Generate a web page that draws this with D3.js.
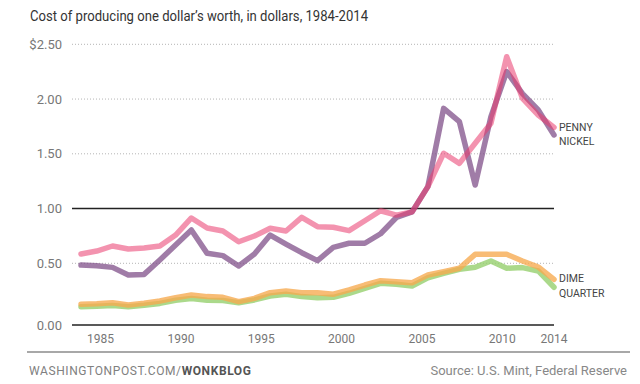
<!DOCTYPE html>
<html>
<head>
<meta charset="utf-8">
<script src="https://cdn.jsdelivr.net/npm/d3@7"></script>
<style>
  html, body { margin: 0; padding: 0; background: #fff; }
  svg { display: block; }
</style>
</head>
<body>
<svg id="chart" width="640" height="384"></svg>
<script>
// ---- data ----
const years = [1984,1985,1986,1987,1988,1989,1990,1991,1992,1993,1994,1995,1996,1997,1998,1999,
               2000,2001,2002,2003,2004,2005,2006,2007,2008,2009,2010,2011,2012,2013,2014];
const penny   = [0.585,0.612,0.658,0.630,0.640,0.658,0.758,0.914,0.822,0.795,0.697,0.749,0.820,0.795,0.920,0.834,
                 0.829,0.798,0.889,0.980,0.940,0.970,1.200,1.505,1.413,1.596,1.779,2.387,2.007,1.854,1.742];
const nickel  = [0.486,0.480,0.467,0.405,0.410,0.530,0.667,0.804,0.591,0.570,0.478,0.585,0.758,0.676,0.597,0.524,
                 0.646,0.683,0.683,0.770,0.918,0.970,1.200,1.915,1.793,1.215,1.839,2.250,2.050,1.900,1.672];
const dime    = [0.168,0.172,0.181,0.162,0.176,0.194,0.221,0.243,0.230,0.224,0.189,0.216,0.262,0.276,0.262,0.262,
                 0.249,0.284,0.324,0.359,0.351,0.343,0.405,0.432,0.460,0.582,0.582,0.582,0.521,0.470,0.370];
const quarter = [0.148,0.152,0.158,0.148,0.160,0.175,0.200,0.215,0.200,0.198,0.181,0.203,0.235,0.249,0.230,0.221,
                 0.224,0.257,0.297,0.338,0.330,0.316,0.383,0.419,0.451,0.468,0.521,0.460,0.465,0.438,0.306];
const seriesNames = ["QUARTER","DIME","NICKEL","PENNY"];
const yTicks = [0, 0.5, 1.0, 1.5, 2.0, 2.5];
const yTickLabels = ["0.00","0.50","1.00","1.50","2.00","$2.50"];
const xTickYears = [1985, 1990, 1995, 2000, 2005, 2010];
const lastTickYear = 2014;
const title = "Cost of producing one dollar\u2019s worth, in dollars, 1984-2014";
const sourceText = "Source: U.S. Mint, Federal Reserve";

// ---- layout ----
const svg = d3.select("#chart");
const gridLeft = 72, gridRight = 554;
const x = d3.scaleLinear().domain([1984, 2014]).range([81, 554]);
const xLabel = d3.scaleLinear().domain([1984, 2014]).range([84, 566]);
const y = d3.scaleLinear().domain([0, 0.5, 2.5]).range([325, 263.3, 44.3]);

const font = "Roboto, 'Liberation Sans', sans-serif";

// title
svg.append("text")
  .attr("x", 30).attr("y", 21)
  .attr("font-family", font).attr("font-size", 14)
  .attr("fill", "#333")
  .attr("textLength", 338).attr("lengthAdjust", "spacingAndGlyphs")
  .text(title);

// gridlines
const grid = svg.append("g");
yTicks.forEach((t) => {
  const solid = (t === 0 || t === 1);
  grid.append("line")
    .attr("x1", gridLeft).attr("x2", gridRight)
    .attr("y1", y(t)).attr("y2", y(t))
    .attr("stroke", solid ? "#222" : "#b5b5b5")
    .attr("stroke-width", solid ? 1.6 : 1)
    .attr("stroke-dasharray", solid ? null : "1,2");
});

// y labels
svg.append("g").selectAll("text").data(yTicks).join("text")
  .attr("x", 62).attr("y", d => y(d)).attr("dy", "0.36em")
  .attr("text-anchor", "end")
  .attr("font-family", font).attr("font-size", 13)
  .attr("fill", "#777")
  .text((d, i) => yTickLabels[i]);

// x labels
const xAxis = d3.axisBottom(xLabel).tickValues(xTickYears).tickFormat(d3.format("d")).tickSize(0).tickPadding(0);
const gx = svg.append("g").attr("transform", "translate(0,334)").call(xAxis);
gx.select(".domain").remove();
gx.selectAll("text").attr("font-family", font).attr("font-size", 12).attr("fill", "#777").attr("dy", "0.71em");
svg.append("text")
  .attr("x", x(lastTickYear)).attr("y", 334).attr("dy", "0.71em")
  .attr("text-anchor", "middle")
  .attr("font-family", font).attr("font-size", 12).attr("fill", "#777")
  .text(String(lastTickYear));

// lines
const line = d3.line().x((d, i) => x(years[i])).y(d => y(d));
const seriesData = [quarter, dime, nickel, penny];
const colors = ["#96d06e", "#f6a94e", "#80508a", "#ea3a6e"];
const opac = [0.8, 0.78, 0.75, 0.55];
const labelDy = [6, -1, 6, 0];

seriesData.forEach((s, k) => {
  svg.append("path")
    .datum(s)
    .attr("d", line)
    .attr("fill", "none")
    .attr("stroke", colors[k])
    .attr("stroke-opacity", opac[k])
    .attr("stroke-width", 5.5)
    .attr("stroke-linecap", "round")
    .attr("stroke-linejoin", "round");
});

// series labels
seriesData.forEach((s, k) => {
  svg.append("text")
    .attr("x", 559).attr("y", y(s[s.length - 1]) + labelDy[k]).attr("dy", "0.36em")
    .attr("font-family", font).attr("font-size", 10.5)
    .attr("fill", "#444")
    .text(seriesNames[k]);
});

// footer
svg.append("line")
  .attr("x1", 27).attr("x2", 630).attr("y1", 352).attr("y2", 352)
  .attr("stroke", "#a8a8a8").attr("stroke-width", 2);

const foot = svg.append("text")
  .attr("x", 29).attr("y", 375)
  .attr("font-family", font).attr("font-size", 12)
  .attr("letter-spacing", 0.6)
  .attr("fill", "#808080");
foot.append("tspan").text("WASHINGTONPOST.COM/");
foot.append("tspan").attr("font-weight", "bold").attr("fill", "#555").text("WONKBLOG");

svg.append("text")
  .attr("x", 627).attr("y", 375)
  .attr("text-anchor", "end")
  .attr("font-family", font).attr("font-size", 13)
  .attr("fill", "#888")
  .text(sourceText);
</script>
</body>
</html>
